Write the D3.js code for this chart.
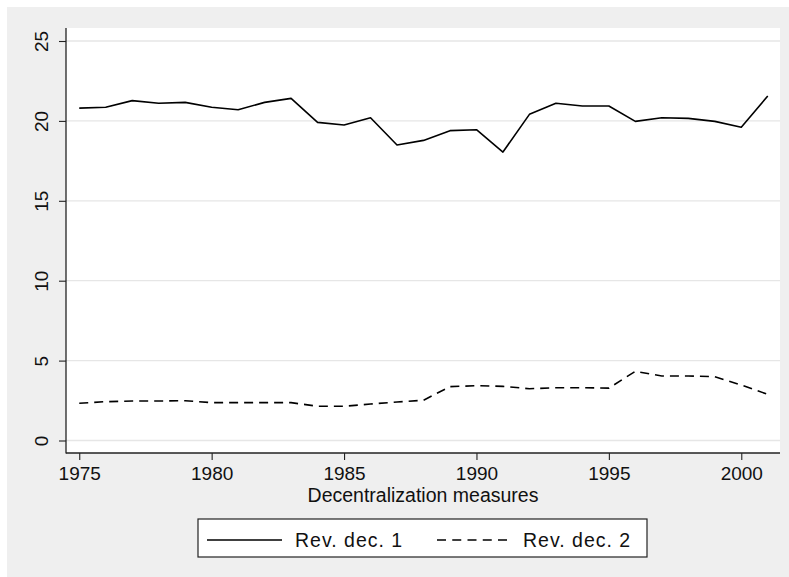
<!DOCTYPE html>
<html>
<head>
<meta charset="utf-8">
<script src="https://cdn.jsdelivr.net/npm/d3@7"></script>
<style>
  html, body { margin: 0; padding: 0; background: #ffffff; }
  svg { display: block; }
  text { font-family: "Liberation Sans", Arial, Helvetica, sans-serif; fill: #111; }
</style>
</head>
<body>
<svg id="chart" width="789" height="577"></svg>
<script>
const years = [1975,1976,1977,1978,1979,1980,1981,1982,1983,1984,1985,1986,1987,1988,
               1989,1990,1991,1992,1993,1994,1995,1996,1997,1998,1999,2000,2001];
const revDec1 = [20.8,20.85,21.27,21.1,21.16,20.85,20.7,21.16,21.41,19.91,19.74,20.2,18.49,18.78,
                 19.39,19.45,18.05,20.41,21.1,20.93,20.93,19.97,20.2,20.16,19.97,19.6,21.56];
const revDec2 = [2.33,2.43,2.47,2.47,2.49,2.37,2.37,2.37,2.37,2.14,2.14,2.28,2.41,2.52,
                 3.37,3.43,3.39,3.24,3.3,3.3,3.28,4.33,4.04,4.04,3.99,3.47,2.89];
const yTicks = [0,5,10,15,20,25];
const xTicks = [1975,1980,1985,1990,1995,2000];
const seriesNames = ["Rev. dec. 1","Rev. dec. 2"];
const xTitle = "Decentralization measures";

const svg = d3.select("#chart");
svg.append("rect").attr("x",7).attr("y",7).attr("width",782).attr("height",570).attr("fill","#efefef");

const L = 66, R = 780, T = 28, B = 453;
svg.append("rect").attr("x",L).attr("y",T).attr("width",R-L).attr("height",B-T).attr("fill","#ffffff");

const x = d3.scaleLinear().domain([1974.5, 2001.5]).range([L, 781]);
const y = d3.scaleLinear().domain([0, 25]).range([440.5, 41]);

svg.append("g").selectAll("line").data(yTicks).join("line")
  .attr("x1",L).attr("x2",R).attr("y1",d=>y(d)).attr("y2",d=>y(d))
  .attr("stroke","#e6e6e6").attr("stroke-width",1.3);

const yAxis = svg.append("g").attr("transform",`translate(${L},0)`)
  .call(d3.axisLeft(y).tickValues(yTicks).tickSize(7).tickPadding(0).tickFormat(d3.format("d")));
yAxis.select(".domain").remove();
yAxis.selectAll(".tick line").attr("stroke","#222").attr("stroke-width",1.1);
yAxis.selectAll(".tick text").attr("x",0).attr("y",0).attr("dy",null)
  .attr("transform","translate(-25,0) rotate(-90)")
  .attr("text-anchor","middle").attr("dominant-baseline","central")
  .style("font-size","19px").style("font-family","Liberation Sans, Arial, sans-serif").attr("fill","#111");
svg.append("line").attr("x1",L).attr("x2",L).attr("y1",T).attr("y2",B+0.5)
  .attr("stroke","#222").attr("stroke-width",1.3);

const xAxis = svg.append("g").attr("transform",`translate(0,${B})`)
  .call(d3.axisBottom(x).tickValues(xTicks).tickSize(7).tickPadding(7).tickFormat(d3.format("d")));
xAxis.select(".domain").remove();
xAxis.selectAll(".tick line").attr("stroke","#222").attr("stroke-width",1.1);
xAxis.selectAll(".tick text").style("font-size","19px")
  .style("font-family","Liberation Sans, Arial, sans-serif").attr("fill","#111");
svg.append("line").attr("x1",L).attr("x2",R).attr("y1",B).attr("y2",B)
  .attr("stroke","#222").attr("stroke-width",1.3);

svg.append("text").attr("x",(L+R)/2).attr("y",502).attr("text-anchor","middle")
  .style("font-size","19.5px").text(xTitle);

const line = (vals) => d3.line().x((d,i)=>x(years[i])).y(d=>y(d))(vals);
svg.append("path").attr("d",line(revDec1)).attr("fill","none")
  .attr("stroke","#000").attr("stroke-width",1.6).attr("stroke-linejoin","round");
svg.append("path").attr("d",line(revDec2)).attr("fill","none")
  .attr("stroke","#000").attr("stroke-width",1.6).attr("stroke-dasharray","9,6");

svg.append("rect").attr("x",198).attr("y",519).attr("width",449).attr("height",38)
  .attr("fill","#fff").attr("stroke","#222").attr("stroke-width",1.2);
const leg = [
  {x1:207, x2:282, tx:295, dash:null, name:seriesNames[0]},
  {x1:437, x2:512, tx:523, dash:"9,6.25", name:seriesNames[1]}
];
leg.forEach(l=>{
  svg.append("line").attr("x1",l.x1).attr("x2",l.x2).attr("y1",540).attr("y2",540)
    .attr("stroke","#000").attr("stroke-width",1.6).attr("stroke-dasharray",l.dash);
  svg.append("text").attr("x",l.tx).attr("y",547).style("font-size","19.5px")
    .style("letter-spacing","1px").text(l.name);
});
</script>
</body>
</html>
